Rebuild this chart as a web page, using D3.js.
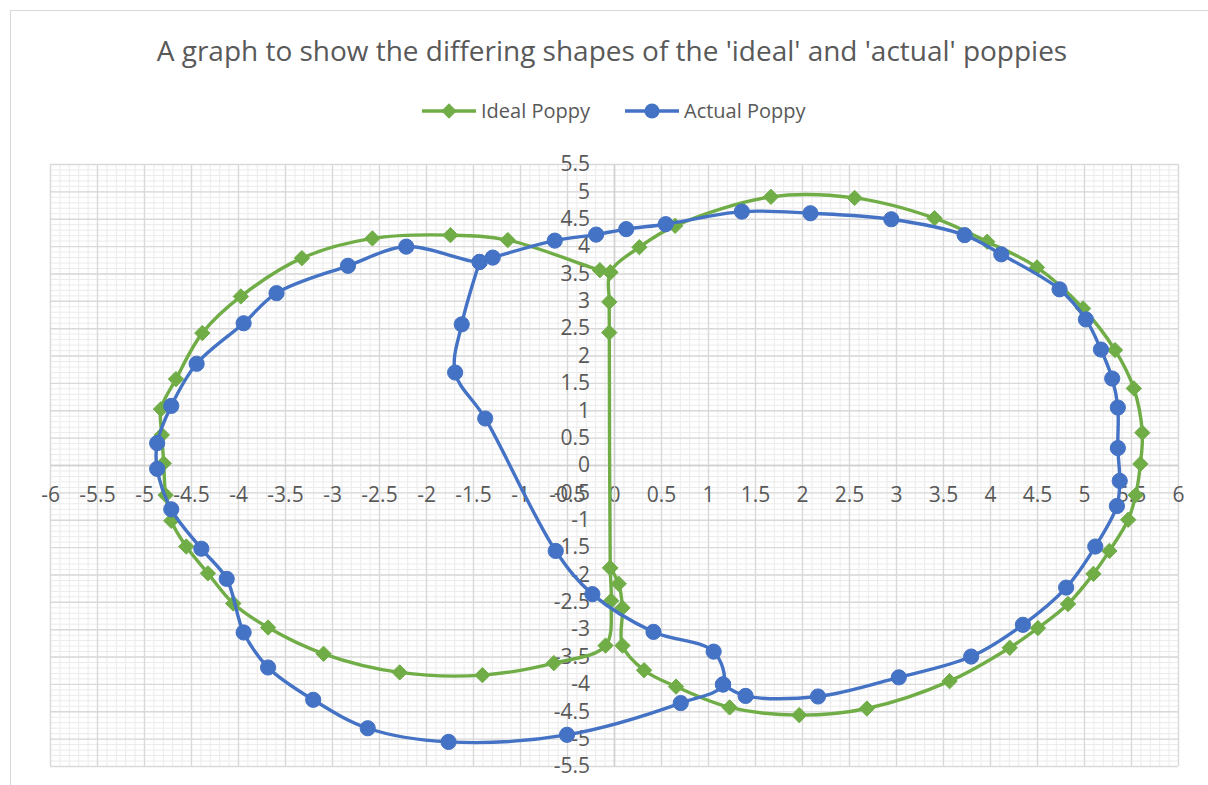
<!DOCTYPE html>
<html>
<head>
<meta charset="utf-8">
<script src="https://cdn.jsdelivr.net/npm/d3@7"></script>
<style>
html,body{margin:0;padding:0;background:#ffffff;}
svg{display:block;font-family:"Open Sans","Liberation Sans",sans-serif;}
</style>
</head>
<body>
<svg id="chart" width="1208" height="785"></svg>
<script>
// ---------- data ----------
const chartTitle = "A graph to show the differing shapes of the 'ideal' and 'actual' poppies";
const seriesNames = ["Ideal Poppy", "Actual Poppy"];

const idealX = [-0.04, -0.15, -1.13, -1.74, -2.57, -3.32, -3.97, -4.38, -4.66, -4.82, -4.81, -4.79, -4.77, -4.71, -4.55, -4.32, -4.05, -3.68, -3.09, -2.28, -1.40, -0.64, -0.09, -0.03, -0.04, -0.05, -0.05, -0.04, 0.27, 0.65, 1.67, 2.56, 3.41, 3.97, 4.50, 4.99, 5.33, 5.53, 5.62, 5.60, 5.55, 5.47, 5.27, 5.10, 4.83, 4.51, 4.21, 3.57, 2.69, 1.97, 1.23, 0.66, 0.32, 0.09, 0.09, 0.05, -0.04];
const idealY = [3.52, 3.56, 4.11, 4.20, 4.14, 3.78, 3.08, 2.41, 1.57, 1.02, 0.55, 0.03, -0.55, -1.02, -1.49, -1.98, -2.53, -2.97, -3.45, -3.79, -3.84, -3.62, -3.30, -2.48, -1.88, 2.42, 2.98, 3.52, 3.98, 4.37, 4.90, 4.88, 4.51, 4.08, 3.61, 2.86, 2.10, 1.40, 0.59, 0.02, -0.55, -1.00, -1.57, -1.99, -2.54, -2.98, -3.34, -3.95, -4.45, -4.57, -4.43, -4.05, -3.75, -3.30, -2.61, -2.17, -1.88];

const actualX = [-1.43, -1.62, -1.69, -1.37, -0.62, -0.23, 0.42, 1.06, 1.16, 0.71, -0.50, -1.76, -2.62, -3.20, -3.68, -3.94, -4.12, -4.39, -4.71, -4.86, -4.86, -4.71, -4.44, -3.94, -3.59, -2.83, -2.21, -1.43, -1.29, -0.63, -0.19, 0.13, 0.55, 1.36, 2.09, 2.95, 3.73, 4.12, 4.74, 5.02, 5.18, 5.30, 5.36, 5.36, 5.38, 5.35, 5.12, 4.81, 4.35, 3.80, 3.03, 2.17, 1.40, 1.16];
const actualY = [3.71, 2.57, 1.69, 0.85, -1.57, -2.36, -3.05, -3.41, -4.01, -4.35, -4.93, -5.06, -4.81, -4.29, -3.70, -3.06, -2.08, -1.53, -0.81, -0.07, 0.40, 1.08, 1.85, 2.59, 3.14, 3.64, 3.99, 3.71, 3.79, 4.10, 4.21, 4.31, 4.40, 4.63, 4.60, 4.49, 4.20, 3.85, 3.21, 2.66, 2.11, 1.58, 1.05, 0.31, -0.29, -0.75, -1.49, -2.24, -2.92, -3.50, -3.88, -4.23, -4.22, -4.01];

const xTicks = [-6, -5.5, -5, -4.5, -4, -3.5, -3, -2.5, -2, -1.5, -1, -0.5, 0, 0.5, 1, 1.5, 2, 2.5, 3, 3.5, 4, 4.5, 5, 5.5, 6];
const yTicks = [-5.5, -5, -4.5, -4, -3.5, -3, -2.5, -2, -1.5, -1, -0.5, 0, 0.5, 1, 1.5, 2, 2.5, 3, 3.5, 4, 4.5, 5, 5.5];

// ---------- styling ----------
const colors = ["#70AD47", "#4472C4"];
const textColor = "#595959";
const plot = {left: 50, right: 1178, top: 164, bottom: 766};

const svg = d3.select("#chart");

// chart area border
svg.append("rect")
  .attr("x", 10.5).attr("y", 10.5)
  .attr("width", 1220).attr("height", 800)
  .attr("fill", "#ffffff").attr("stroke", "#d9d9d9").attr("stroke-width", 1);

const x = d3.scaleLinear().domain([xTicks[0], xTicks[xTicks.length - 1]]).range([plot.left, plot.right]);
const y = d3.scaleLinear().domain([yTicks[0], yTicks[yTicks.length - 1]]).range([plot.bottom, plot.top]);

// minor gridlines (0.1)
const xMinor = d3.range(Math.round(x.domain()[0] * 10), Math.round(x.domain()[1] * 10) + 1).map(d => d / 10);
const yMinor = d3.range(Math.round(y.domain()[0] * 10), Math.round(y.domain()[1] * 10) + 1).map(d => d / 10);

const gMinor = svg.append("g");
gMinor.append("g")
  .attr("transform", `translate(0,${plot.bottom})`)
  .call(d3.axisBottom(x).tickValues(xMinor).tickSize(-(plot.bottom - plot.top)).tickFormat(""))
  .call(g => g.select(".domain").remove())
  .call(g => g.selectAll("line").attr("stroke", "#ebebeb").attr("stroke-width", 1));
gMinor.append("g")
  .attr("transform", `translate(${plot.left},0)`)
  .call(d3.axisLeft(y).tickValues(yMinor).tickSize(-(plot.right - plot.left)).tickFormat(""))
  .call(g => g.select(".domain").remove())
  .call(g => g.selectAll("line").attr("stroke", "#ebebeb").attr("stroke-width", 1));

// major gridlines (0.5)
const gMajor = svg.append("g");
gMajor.append("g")
  .attr("transform", `translate(0,${plot.bottom})`)
  .call(d3.axisBottom(x).tickValues(xTicks).tickSize(-(plot.bottom - plot.top)).tickFormat(""))
  .call(g => g.select(".domain").remove())
  .call(g => g.selectAll("line").attr("stroke", "#d9d9d9").attr("stroke-width", 1.4));
gMajor.append("g")
  .attr("transform", `translate(${plot.left},0)`)
  .call(d3.axisLeft(y).tickValues(yTicks).tickSize(-(plot.right - plot.left)).tickFormat(""))
  .call(g => g.select(".domain").remove())
  .call(g => g.selectAll("line").attr("stroke", "#d9d9d9").attr("stroke-width", 1.4));

// axes crossing at zero
const fmt = d => String(d);
svg.append("g")
  .attr("transform", `translate(0,${y(0)})`)
  .call(d3.axisBottom(x).tickValues(xTicks).tickSize(0).tickPadding(22).tickFormat(fmt))
  .call(g => g.select(".domain").attr("stroke", "#d0d0d0").attr("stroke-width", 1.4))
  .call(g => g.selectAll("text").attr("fill", textColor).attr("font-size", 21).attr("font-family", "Open Sans"));
svg.append("g")
  .attr("transform", `translate(${x(0)},0)`)
  .call(d3.axisLeft(y).tickValues(yTicks).tickSize(0).tickPadding(24).tickFormat(fmt))
  .call(g => g.select(".domain").attr("stroke", "#d0d0d0").attr("stroke-width", 1.4))
  .call(g => g.selectAll("text").attr("fill", textColor).attr("font-size", 21).attr("font-family", "Open Sans"));

// series
const seriesData = [
  idealX.map((v, i) => ({x: v, y: idealY[i]})),
  actualX.map((v, i) => ({x: v, y: actualY[i]}))
];
const line = d3.line().x(d => x(d.x)).y(d => y(d.y)).curve(d3.curveCatmullRom.alpha(0.5));
const diamond = d3.symbol().type(d3.symbolDiamond2).size(150);
const circleR = 7.6;

seriesData.forEach((pts, si) => {
  const g = svg.append("g");
  g.append("path")
    .attr("d", line(pts))
    .attr("fill", "none")
    .attr("stroke", colors[si])
    .attr("stroke-width", 3.4)
    .attr("stroke-linejoin", "round")
    .attr("stroke-linecap", "round");
  if (si === 0) {
    g.selectAll("path.m").data(pts).join("path")
      .attr("class", "m")
      .attr("d", diamond)
      .attr("transform", d => `translate(${x(d.x)},${y(d.y)})`)
      .attr("fill", colors[si]).attr("stroke", colors[si]).attr("stroke-width", 1);
  } else {
    g.selectAll("circle").data(pts).join("circle")
      .attr("cx", d => x(d.x)).attr("cy", d => y(d.y)).attr("r", circleR)
      .attr("fill", colors[si]).attr("stroke", colors[si]).attr("stroke-width", 1);
  }
});

// title
const titleText = svg.append("text")
  .attr("x", 612).attr("y", 61)
  .attr("text-anchor", "middle")
  .attr("fill", textColor)
  .attr("font-size", 25)
  .text(chartTitle);
const tw = titleText.node().getComputedTextLength();
titleText.attr("font-size", 25 * 911 / tw);

// legend
const legendItems = [
  {name: seriesNames[0], x0: 422, color: colors[0], marker: "diamond"},
  {name: seriesNames[1], x0: 625, color: colors[1], marker: "circle"}
];
const ly = 111;
legendItems.forEach(it => {
  const g = svg.append("g");
  g.append("line").attr("x1", it.x0).attr("x2", it.x0 + 54).attr("y1", ly).attr("y2", ly)
    .attr("stroke", it.color).attr("stroke-width", 3.4);
  if (it.marker === "diamond") {
    g.append("path").attr("d", diamond()).attr("transform", `translate(${it.x0 + 27},${ly})`).attr("fill", it.color);
  } else {
    g.append("circle").attr("cx", it.x0 + 27).attr("cy", ly).attr("r", circleR).attr("fill", it.color);
  }
  g.append("text").attr("x", it.x0 + 59).attr("y", ly).attr("dy", "0.35em")
    .attr("fill", textColor).attr("font-size", 20).text(it.name);
});
</script>
</body>
</html>
